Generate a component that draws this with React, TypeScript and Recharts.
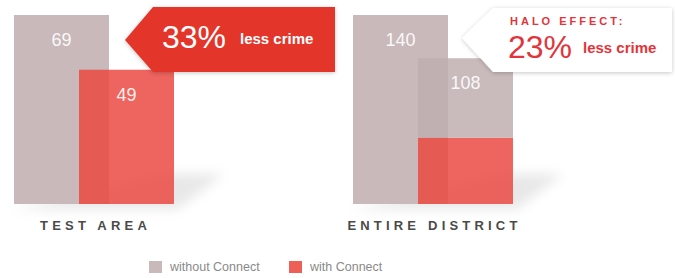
import React from 'react';
import { BarChart, Bar, XAxis, YAxis, LabelList } from 'recharts';

// ---- data ----
const areas = ['TEST AREA', 'ENTIRE DISTRICT'];
const withoutConnect = [69, 140];
const withConnect = [49, 108];
const testAreaPortion = [49, 49]; // red part of the "with Connect" bar
const calloutHeads = ['', 'HALO EFFECT:'];
const calloutPercents = ['33%', '23%'];
const calloutTexts = ['less crime', 'less crime'];
const legendLabels = ['without Connect', 'with Connect'];

// ---- styles ----
const FONT = '"Liberation Sans", Arial, Helvetica, sans-serif';
const GREY = '#c9b9bb';
const GREY_FRONT = '#bfaeaf';
const RED = '#eb4942';
const CALLOUT_RED = '#e3342a';
const TEXT_RED = '#e2343a';
const BAR = 95;
const GAP = -30;

const makeRow = (i: number) => ({
  name: areas[i],
  without: withoutConnect[i],
  withTest: testAreaPortion[i],
  withRest: withConnect[i] - testAreaPortion[i],
  withTotal: withConnect[i],
});

const BackBarShape = (props: any) => {
  const { x, y, width, height, fill } = props;
  const bottom = y + height;
  const gx = x + 2 * width + GAP;
  const pts = [
    [x - 2, bottom + 5],
    [gx + 4, bottom + 5],
    [gx + 50, bottom - 30],
    [gx - 10, bottom - 30],
  ]
    .map((p) => p.join(','))
    .join(' ');
  return (
    <g>
      <polygon points={pts} fill="#000" fillOpacity={0.09} filter="url(#barShadow)" />
      <rect x={x} y={y} width={width} height={height} fill={fill} />
    </g>
  );
};

const ValueLabel = (props: any) => {
  const { x, y, width, value } = props;
  return (
    <text
      x={x + width / 2}
      y={y + 31}
      textAnchor="middle"
      fill="#ffffff"
      fillOpacity={0.93}
      fontSize={18}
      fontFamily={FONT}
    >
      {value}
    </text>
  );
};

const CategoryTick = (props: any) => {
  const { x, y, payload } = props;
  return (
    <text
      x={x + 2}
      y={y}
      dy={18}
      textAnchor="middle"
      fill="#4a4a4a"
      fontSize={13}
      fontWeight="bold"
      letterSpacing={4.2}
      fontFamily={FONT}
    >
      {payload.value}
    </text>
  );
};

const AreaChart = ({ index, left }: { index: number; left: number }) => {
  const row = makeRow(index);
  const hasRest = row.withRest > 0;
  return (
    <div style={{ position: 'absolute', left, top: 0 }}>
      <BarChart
        width={187}
        height={240}
        data={[row]}
        margin={{ top: 15, right: 0, bottom: 0, left: 0 }}
        barGap={GAP}
        barSize={BAR}
      >
        <XAxis dataKey="name" axisLine={false} tickLine={false} height={36} interval={0} tick={<CategoryTick />} />
        <YAxis hide domain={[0, 'dataMax']} />
        <Bar dataKey="without" stackId="a" fill={GREY} shape={<BackBarShape />} isAnimationActive={false}>
          <LabelList dataKey="without" content={<ValueLabel />} />
        </Bar>
        <Bar dataKey="withTest" stackId="w" fill={RED} fillOpacity={0.85} isAnimationActive={false}>
          {!hasRest && <LabelList dataKey="withTotal" content={<ValueLabel />} />}
        </Bar>
        {hasRest && (
          <Bar dataKey="withRest" stackId="w" fill={GREY_FRONT} fillOpacity={0.85} isAnimationActive={false}>
            <LabelList dataKey="withTotal" content={<ValueLabel />} />
          </Bar>
        )}
      </BarChart>
    </div>
  );
};

const Callouts = () => (
  <svg width={675} height={278} style={{ position: 'absolute', left: 0, top: 0, pointerEvents: 'none' }}>
    <defs>
      <filter id="barShadow" x="-50%" y="-50%" width="200%" height="200%">
        <feGaussianBlur stdDeviation="6" />
      </filter>
      <filter id="calloutShadow" x="-10%" y="-20%" width="120%" height="150%">
        <feDropShadow dx="0" dy="1" stdDeviation="2" floodColor="#000" floodOpacity="0.22" />
      </filter>
    </defs>
    {/* red callout */}
    <polygon points="153,7 335,7 335,72 153,72 125,40" fill={CALLOUT_RED} filter="url(#calloutShadow)" />
    <text x={162} y={48} fill="#ffffff" fontSize={32} fontFamily={FONT}>
      {calloutPercents[0]}
    </text>
    <text x={240} y={44} fill="#ffffff" fontSize={15} fontWeight="bold" fontFamily={FONT}>
      {calloutTexts[0]}
    </text>
    {/* white callout */}
    <polygon points="493,8 672,8 672,72 493,72 462,38" fill="#ffffff" filter="url(#calloutShadow)" />
    <text x={510} y={25} fill={TEXT_RED} fontSize={11} fontWeight="bold" letterSpacing={3} fontFamily={FONT}>
      {calloutHeads[1]}
    </text>
    <text x={508} y={58} fill={TEXT_RED} fontSize={32} fontFamily={FONT}>
      {calloutPercents[1]}
    </text>
    <text x={583} y={53} fill={TEXT_RED} fontSize={15} fontWeight="bold" fontFamily={FONT}>
      {calloutTexts[1]}
    </text>
  </svg>
);

const Legend = () => {
  const item = (color: string, label: string, left: number) => (
    <div style={{ position: 'absolute', left, top: 260, display: 'flex', alignItems: 'center' }}>
      <span style={{ display: 'inline-block', width: 13, height: 12, background: color, marginRight: 8 }} />
      <span style={{ fontSize: 12.5, color: '#8a8a8a', fontFamily: FONT, lineHeight: '14px' }}>{label}</span>
    </div>
  );
  return (
    <>
      {item(GREY, legendLabels[0], 149)}
      {item('#ee5f58', legendLabels[1], 289)}
    </>
  );
};

export default function App() {
  return (
    <div
      style={{
        position: 'absolute',
        left: 0,
        top: 0,
        width: 675,
        height: 278,
        background: '#ffffff',
        overflow: 'hidden',
        fontFamily: FONT,
      }}
    >
      <style>{`.recharts-surface{overflow:visible}.recharts-wrapper{overflow:visible}`}</style>
      <AreaChart index={0} left={0} />
      <AreaChart index={1} left={339} />
      <Callouts />
      <Legend />
    </div>
  );
}
